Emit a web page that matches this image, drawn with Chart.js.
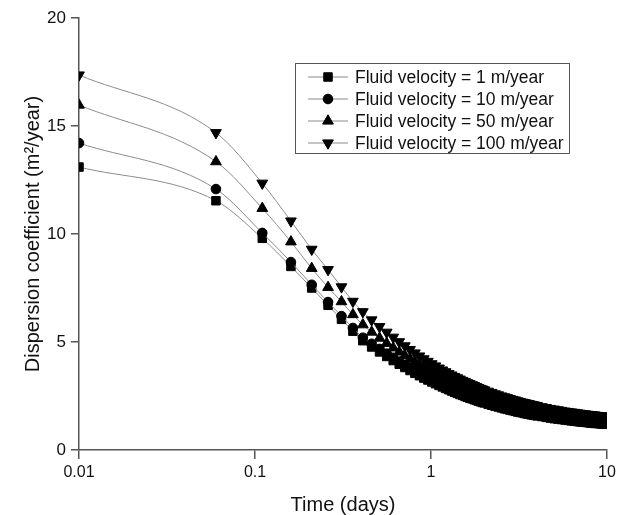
<!DOCTYPE html>
<html>
<head>
<meta charset="utf-8">
<title>Dispersion coefficient vs time</title>
<script src="https://cdn.jsdelivr.net/npm/chart.js@4.4.1/dist/chart.umd.min.js"></script>
<style>
  html, body { margin: 0; padding: 0; background: #fff; }
  #wrap { position: relative; width: 621px; height: 515px; }
</style>
</head>
<body>
<div id="wrap"><canvas id="chart" width="621" height="515"></canvas></div>
<script>
// time (days), every 0.05 d at first, coarser later where markers merge into a band
const times = [
  0.01, 0.06, 0.11, 0.16, 0.21, 0.26, 0.31, 0.36, 0.41, 0.46,
  0.51, 0.56, 0.61, 0.66, 0.71, 0.76, 0.81, 0.86, 0.91, 0.96,
  1.01, 1.06, 1.11, 1.16, 1.21, 1.26, 1.31, 1.36, 1.41, 1.46,
  1.51, 1.56, 1.61, 1.66, 1.71, 1.76, 1.81, 1.86, 1.91, 1.96,
  2.01, 2.11, 2.21, 2.31, 2.41, 2.51, 2.61, 2.71, 2.81, 2.91,
  3.01, 3.11, 3.21, 3.31, 3.41, 3.51, 3.61, 3.71, 3.81, 3.91,
  4.01, 4.26, 4.51, 4.76, 5.01, 5.26, 5.51, 5.76, 6.01, 6.26,
  6.51, 6.76, 7.01, 7.26, 7.51, 7.76, 8.01, 8.26, 8.51, 8.76,
  9.01, 9.26, 9.51, 9.76, 9.96
]

// dispersion coefficient (m2/year) per fluid velocity
const velocity1 = [
  13.10, 11.54, 9.80, 8.50, 7.50, 6.70, 6.05, 5.50, 5.06, 4.77,
  4.54, 4.33, 4.14, 3.97, 3.82, 3.68, 3.55, 3.44, 3.33, 3.24,
  3.15, 3.07, 2.99, 2.92, 2.85, 2.79, 2.73, 2.67, 2.62, 2.57,
  2.53, 2.48, 2.44, 2.40, 2.37, 2.33, 2.30, 2.26, 2.23, 2.20,
  2.18, 2.12, 2.07, 2.03, 1.99, 1.95, 1.91, 1.88, 1.85, 1.82,
  1.79, 1.76, 1.74, 1.72, 1.69, 1.67, 1.65, 1.63, 1.62, 1.60,
  1.58, 1.55, 1.51, 1.48, 1.45, 1.43, 1.41, 1.39, 1.37, 1.35,
  1.33, 1.32, 1.30, 1.29, 1.28, 1.27, 1.25, 1.24, 1.23, 1.23,
  1.22, 1.21, 1.20, 1.19, 1.19
]
const velocity10 = [
  14.21, 12.08, 10.05, 8.70, 7.65, 6.85, 6.20, 5.65, 5.20, 4.92,
  4.68, 4.46, 4.27, 4.09, 3.94, 3.79, 3.66, 3.54, 3.43, 3.34,
  3.24, 3.16, 3.08, 3.01, 2.94, 2.88, 2.81, 2.75, 2.70, 2.65,
  2.61, 2.56, 2.52, 2.48, 2.44, 2.40, 2.37, 2.33, 2.30, 2.27,
  2.25, 2.19, 2.14, 2.09, 2.05, 2.01, 1.97, 1.94, 1.91, 1.88,
  1.85, 1.82, 1.80, 1.77, 1.75, 1.73, 1.71, 1.69, 1.67, 1.65,
  1.64, 1.60, 1.56, 1.53, 1.50, 1.48, 1.46, 1.44, 1.42, 1.40,
  1.38, 1.36, 1.35, 1.33, 1.32, 1.31, 1.30, 1.29, 1.28, 1.27,
  1.26, 1.25, 1.24, 1.23, 1.23
]
const velocity50 = [
  15.97, 13.35, 11.19, 9.64, 8.41, 7.53, 6.87, 6.27, 5.80, 5.46,
  5.18, 4.94, 4.73, 4.54, 4.37, 4.21, 4.07, 3.94, 3.83, 3.72,
  3.62, 3.53, 3.44, 3.36, 3.29, 3.21, 3.15, 3.09, 3.03, 2.98,
  2.92, 2.87, 2.83, 2.78, 2.74, 2.70, 2.66, 2.63, 2.59, 2.56,
  2.53, 2.47, 2.42, 2.36, 2.32, 2.27, 2.23, 2.20, 2.16, 2.13,
  2.10, 2.07, 2.04, 2.01, 1.99, 1.97, 1.94, 1.92, 1.90, 1.88,
  1.87, 1.82, 1.79, 1.75, 1.72, 1.69, 1.67, 1.64, 1.62, 1.60,
  1.59, 1.57, 1.55, 1.54, 1.52, 1.51, 1.50, 1.49, 1.47, 1.46,
  1.45, 1.45, 1.44, 1.43, 1.42
]
const velocity100 = [
  17.36, 14.69, 12.35, 10.60, 9.29, 8.35, 7.55, 6.88, 6.40, 6.02,
  5.71, 5.45, 5.22, 5.01, 4.82, 4.65, 4.49, 4.35, 4.22, 4.10,
  3.99, 3.89, 3.79, 3.70, 3.62, 3.54, 3.47, 3.40, 3.34, 3.28,
  3.22, 3.17, 3.11, 3.07, 3.02, 2.98, 2.93, 2.89, 2.85, 2.82,
  2.78, 2.72, 2.66, 2.60, 2.55, 2.50, 2.46, 2.42, 2.38, 2.34,
  2.31, 2.27, 2.24, 2.21, 2.19, 2.16, 2.14, 2.11, 2.09, 2.07,
  2.05, 2.00, 1.96, 1.92, 1.89, 1.86, 1.83, 1.80, 1.78, 1.76,
  1.74, 1.72, 1.70, 1.68, 1.67, 1.65, 1.64, 1.63, 1.62, 1.60,
  1.59, 1.58, 1.57, 1.56, 1.56
]

const seriesLabels = [
  'Fluid velocity = 1 m/year',
  'Fluid velocity = 10 m/year',
  'Fluid velocity = 50 m/year',
  'Fluid velocity = 100 m/year'
]
const xTicks = [0.01, 0.1, 1, 10]
const yTicks = [0, 5, 10, 15, 20]

const FONT = '"Liberation Sans", Arial, Helvetica, sans-serif'
const LINE_COLOR = '#8c8c8c'
const AXIS_COLOR = '#555'

function series(label, values, style, radius, rotation, order) {
  return {
    label,
    data: times.map((t, i) => ({ x: t, y: values[i] })),
    borderColor: LINE_COLOR,
    borderWidth: 1,
    cubicInterpolationMode: 'monotone',
    pointStyle: style,
    pointRotation: rotation,
    pointRadius: radius,
    pointBackgroundColor: '#000',
    pointBorderColor: '#000',
    pointBorderWidth: 1,
    clip: 0,
    order
  }
}

// legend drawn as a framed box inside the plot, like the original figure
const boxLegend = {
  id: 'boxLegend',
  afterDraw(chart) {
    const ctx = chart.ctx
    ctx.save()
    ctx.strokeStyle = AXIS_COLOR
    ctx.lineWidth = 1
    ctx.strokeRect(295.5, 63.5, 274, 90)
    chart.data.datasets.forEach((ds, i) => {
      const y = 77 + i * 22
      ctx.strokeStyle = LINE_COLOR
      ctx.lineWidth = 1
      ctx.beginPath()
      ctx.moveTo(308, y)
      ctx.lineTo(348, y)
      ctx.stroke()
      ctx.fillStyle = '#000'
      ctx.strokeStyle = '#000'
      Chart.helpers.drawPoint(ctx, {
        pointStyle: ds.pointStyle,
        rotation: ds.pointRotation,
        radius: ds.pointRadius,
        borderWidth: 1
      }, 328, y)
      ctx.fillStyle = '#111'
      ctx.font = '17.5px ' + FONT
      ctx.textBaseline = 'middle'
      ctx.textAlign = 'left'
      ctx.fillText(ds.label, 355, y + 1)
    })
    ctx.restore()
  }
}

new Chart(document.getElementById('chart'), {
  type: 'line',
  data: {
    datasets: [
      series(seriesLabels[0], velocity1, 'rect', 6, 0, 4),
      series(seriesLabels[1], velocity10, 'circle', 4.8, 0, 3),
      series(seriesLabels[2], velocity50, 'triangle', 6.2, 0, 2),
      series(seriesLabels[3], velocity100, 'triangle', 6.2, 180, 1)
    ]
  },
  options: {
    responsive: false,
    animation: false,
    layout: { padding: { left: 0, right: 14, top: 18, bottom: 0 } },
    plugins: {
      legend: { display: false },
      tooltip: { enabled: false }
    },
    scales: {
      x: {
        type: 'logarithmic',
        min: 0.01,
        max: 10,
        afterBuildTicks: s => { s.ticks = xTicks.map(v => ({ value: v })) },
        afterFit: s => { s.height = 65 },
        ticks: {
          autoSkip: false,
          maxRotation: 0,
          padding: 4,
          color: '#111',
          font: { size: 16, family: FONT },
          callback: v => String(v)
        },
        grid: { drawOnChartArea: false, drawTicks: true, tickLength: 9, color: AXIS_COLOR, lineWidth: 1.5 },
        border: { display: true, color: AXIS_COLOR, width: 1.5 },
        title: {
          display: true,
          text: 'Time (days)',
          color: '#111',
          font: { size: 20, family: FONT, lineHeight: 1 },
          padding: { top: 0, bottom: 0 }
        }
      },
      y: {
        min: 0,
        max: 20,
        afterBuildTicks: s => { s.ticks = yTicks.map(v => ({ value: v })) },
        afterFit: s => { s.width = 79 },
        ticks: {
          padding: 5,
          color: '#111',
          font: { size: 17, family: FONT }
        },
        grid: { drawOnChartArea: false, drawTicks: true, tickLength: 8, color: AXIS_COLOR, lineWidth: 1.5 },
        border: { display: true, color: AXIS_COLOR, width: 1.5 },
        title: {
          display: true,
          text: 'Dispersion coefficient (m²/year)',
          color: '#111',
          font: { size: 20, family: FONT, lineHeight: 1 },
          padding: { top: 23, bottom: 0 }
        }
      }
    }
  },
  plugins: [boxLegend]
})
</script>
</body>
</html>
